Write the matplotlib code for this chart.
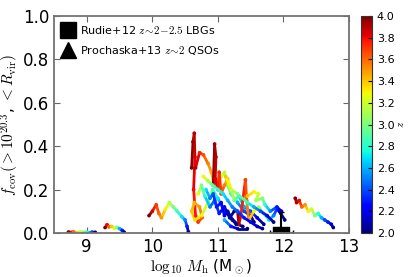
import numpy as np
import matplotlib
matplotlib.use("Agg")
import matplotlib.pyplot as plt
from matplotlib.collections import LineCollection

plt.rcParams['mathtext.fontset'] = 'cm'
plt.rcParams['font.family'] = ['DejaVu Sans']

# halo tracks: log10 Mh, f_cov, redshift
tracks = [
    # tiny low-mass halo
    ([8.72, 8.80, 8.90, 9.00, 9.08, 9.13],
     [0.004, 0.005, 0.005, 0.004, 0.004, 0.003],
     [4.0, 3.6, 3.2, 2.8, 2.4, 2.0]),
    ([9.28, 9.31, 9.34, 9.38, 9.42, 9.46, 9.50, 9.54, 9.57],
     [0.025, 0.038, 0.028, 0.030, 0.022, 0.026, 0.020, 0.012, 0.004],
     [4.0, 3.8, 3.6, 3.4, 3.2, 3.0, 2.6, 2.3, 2.0]),
    ([9.95, 10.00, 10.06, 10.10, 10.14, 10.20, 10.26, 10.32, 10.38, 10.45, 10.50, 10.53, 10.55],
     [0.080, 0.100, 0.130, 0.090, 0.070, 0.110, 0.140, 0.120, 0.100, 0.075, 0.060, 0.030, 0.005],
     [4.0, 3.85, 3.7, 3.6, 3.5, 3.3, 3.15, 3.0, 2.85, 2.7, 2.5, 2.3, 2.0]),
    # red column near 10.63
    ([10.60, 10.62, 10.64, 10.65, 10.63, 10.66, 10.70, 10.76, 10.72, 10.64, 10.60, 10.65, 10.75,
      10.85, 10.92, 11.00, 11.10, 11.20, 11.30, 11.38],
     [0.30, 0.42, 0.46, 0.35, 0.20, 0.08, 0.05, 0.07, 0.12, 0.14, 0.10, 0.06, 0.08,
      0.14, 0.20, 0.16, 0.10, 0.07, 0.04, 0.03],
     [4.0, 3.95, 3.9, 3.85, 3.8, 3.75, 3.7, 3.6, 3.5, 3.45, 3.4, 3.35, 3.3,
      3.1, 2.9, 2.7, 2.5, 2.3, 2.1, 2.0]),
    # orange arc
    ([10.66, 10.72, 10.78, 10.85, 10.90, 10.93, 11.00, 11.05, 11.10, 11.15, 11.20, 11.30, 11.40, 11.50, 11.55],
     [0.30, 0.37, 0.36, 0.32, 0.28, 0.24, 0.22, 0.26, 0.28, 0.22, 0.18, 0.14, 0.10, 0.08, 0.05],
     [3.9, 3.75, 3.65, 3.55, 3.45, 3.4, 3.3, 3.2, 3.15, 3.0, 2.8, 2.6, 2.4, 2.2, 2.0]),
    # red column near 10.95
    ([10.93, 10.95, 10.97, 10.96, 11.00, 11.02, 11.05, 11.10, 11.15, 11.20, 11.25, 11.32, 11.40, 11.50, 11.60, 11.70],
     [0.22, 0.41, 0.35, 0.25, 0.20, 0.28, 0.18, 0.22, 0.25, 0.20, 0.15, 0.17, 0.12, 0.10, 0.07, 0.04],
     [4.0, 3.95, 3.9, 3.85, 3.8, 3.75, 3.7, 3.55, 3.4, 3.2, 3.0, 2.8, 2.6, 2.4, 2.2, 2.0]),
    ([10.70, 10.75, 10.80, 10.88, 10.95, 11.02, 11.10, 11.18, 11.25],
     [0.18, 0.22, 0.17, 0.12, 0.15, 0.09, 0.12, 0.07, 0.10],
     [3.3, 3.0, 2.8, 2.5, 2.4, 2.3, 2.2, 2.1, 2.0]),
    ([11.30, 11.32, 11.35, 11.42, 11.44, 11.47, 11.55, 11.62, 11.70, 11.78, 11.85, 11.90, 11.96, 12.02],
     [0.10, 0.04, 0.08, 0.245, 0.15, 0.06, 0.10, 0.12, 0.09, 0.06, 0.08, 0.11, 0.09, 0.06],
     [4.0, 3.9, 3.8, 3.7, 3.6, 3.5, 3.3, 3.1, 2.9, 2.7, 2.5, 2.3, 2.15, 2.0]),
    ([11.12, 11.20, 11.30, 11.45, 11.55, 11.65, 11.75, 11.85],
     [0.26, 0.20, 0.18, 0.14, 0.12, 0.10, 0.08, 0.05],
     [3.4, 3.2, 3.0, 2.8, 2.6, 2.4, 2.2, 2.0]),
    ([11.45, 11.55, 11.62, 11.58, 11.68, 11.72, 11.80, 11.90, 11.97],
     [0.17, 0.19, 0.18, 0.15, 0.16, 0.13, 0.10, 0.12, 0.10],
     [3.4, 3.3, 3.2, 3.1, 3.0, 2.8, 2.5, 2.3, 2.1]),
    ([11.10, 11.20, 11.30, 11.45],
     [0.06, 0.03, 0.02, 0.02],
     [2.6, 2.3, 2.1, 2.0]),
    ([10.78, 10.85, 10.92, 11.00, 11.08, 11.15, 11.22, 11.30, 11.40, 11.50, 11.60, 11.68],
     [0.26, 0.24, 0.22, 0.20, 0.18, 0.15, 0.12, 0.10, 0.07, 0.05, 0.03, 0.02],
     [3.3, 3.1, 2.9, 2.8, 2.7, 2.6, 2.5, 2.4, 2.3, 2.2, 2.1, 2.0]),
    ([10.82, 10.88, 10.93, 10.98, 11.05, 11.10, 11.15, 11.22, 11.28],
     [0.20, 0.16, 0.18, 0.12, 0.14, 0.08, 0.10, 0.06, 0.04],
     [2.7, 2.5, 2.4, 2.3, 2.25, 2.2, 2.1, 2.05, 2.0]),
    # isolated massive halo
    ([12.18, 12.20, 12.24, 12.28, 12.33, 12.38, 12.43, 12.48, 12.53, 12.58, 12.63, 12.68, 12.73, 12.76],
     [0.16, 0.14, 0.15, 0.12, 0.13, 0.10, 0.11, 0.08, 0.09, 0.07, 0.06, 0.05, 0.04, 0.025],
     [4.0, 3.9, 3.8, 3.6, 3.5, 3.3, 3.2, 3.0, 2.8, 2.6, 2.4, 2.3, 2.15, 2.0]),
]

# observations (both sit at f_cov ~ 0)
rudie_x, rudie_y = 11.97, 0.0
pro_x, pro_y = 11.97, 0.0
pro_xerr = 0.18
pro_yerr_up = 0.097

fig = plt.figure(figsize=(4.15, 2.77), dpi=100)
ax = fig.add_axes([0.130, 0.159, 0.711, 0.783])
cax = fig.add_axes([0.870, 0.159, 0.0265, 0.783])

cmap = plt.get_cmap('jet')
norm = plt.Normalize(2.0, 4.0)

for xs, ys, zs in tracks:
    pts = np.column_stack([xs, ys]).reshape(-1, 1, 2)
    segs = np.concatenate([pts[:-1], pts[1:]], axis=1)
    zmid = 0.5 * (np.array(zs[:-1]) + np.array(zs[1:]))
    lc = LineCollection(segs, cmap=cmap, norm=norm, linewidths=2.0, capstyle='round')
    lc.set_array(zmid)
    ax.add_collection(lc)
    sc = ax.scatter(xs, ys, c=zs, cmap=cmap, norm=norm, s=7, edgecolors='none', zorder=2)

ax.errorbar(pro_x, pro_y, xerr=pro_xerr, yerr=[[0], [pro_yerr_up]], fmt='none', ecolor='k',
            capsize=2, elinewidth=1.5, zorder=2.2)
# square marker cut by the lower axis edge: only its upper part shows
half_square = [(-1, 0), (1, 0), (1, 0.72), (-1, 0.72), (-1, 0)]
ax.plot(rudie_x, rudie_y, marker=half_square, color='k', ms=12, ls='none', zorder=2.3)

ax.plot([], [], 's', color='k', ms=11, label=r'Rudie+12 $z\!\sim\!2\!-\!2.5$ LBGs')
ax.plot([], [], '^', color='k', ms=11, label=r'Prochaska+13 $z\!\sim\!2$ QSOs')
ax.legend(loc='upper left', frameon=False, fontsize=8, numpoints=1,
          handletextpad=0.4, borderaxespad=0.3, handlelength=1.2, labelspacing=0.7)

ax.set_xlim(8.5, 13.0)
ax.set_ylim(0.0, 1.0)
ax.set_xticks([9, 10, 11, 12, 13])
ax.set_yticks([0.0, 0.2, 0.4, 0.6, 0.8, 1.0])
ax.tick_params(direction='in', top=True, right=True, labelsize=12, length=4, color='0.4')
for s in ax.spines.values():
    s.set_color('0.45')
    s.set_linewidth(1.3)
ax.set_xlabel(r'$\log_{10}\,M_{\rm h}$ (M$_\odot$)', fontsize=11, labelpad=1)
ax.set_ylabel(r'$f_{\rm cov}(>10^{20.3}$, $<R_{\rm vir})$', fontsize=11, labelpad=1)

cb = fig.colorbar(sc, cax=cax, ticks=np.arange(2.0, 4.01, 0.2))
cb.ax.tick_params(labelsize=8, length=3, direction='in')
cb.outline.set_edgecolor('0.2')
cb.set_label(r'$z$', fontsize=8, labelpad=1)

fig.savefig('out.png', dpi=100)
